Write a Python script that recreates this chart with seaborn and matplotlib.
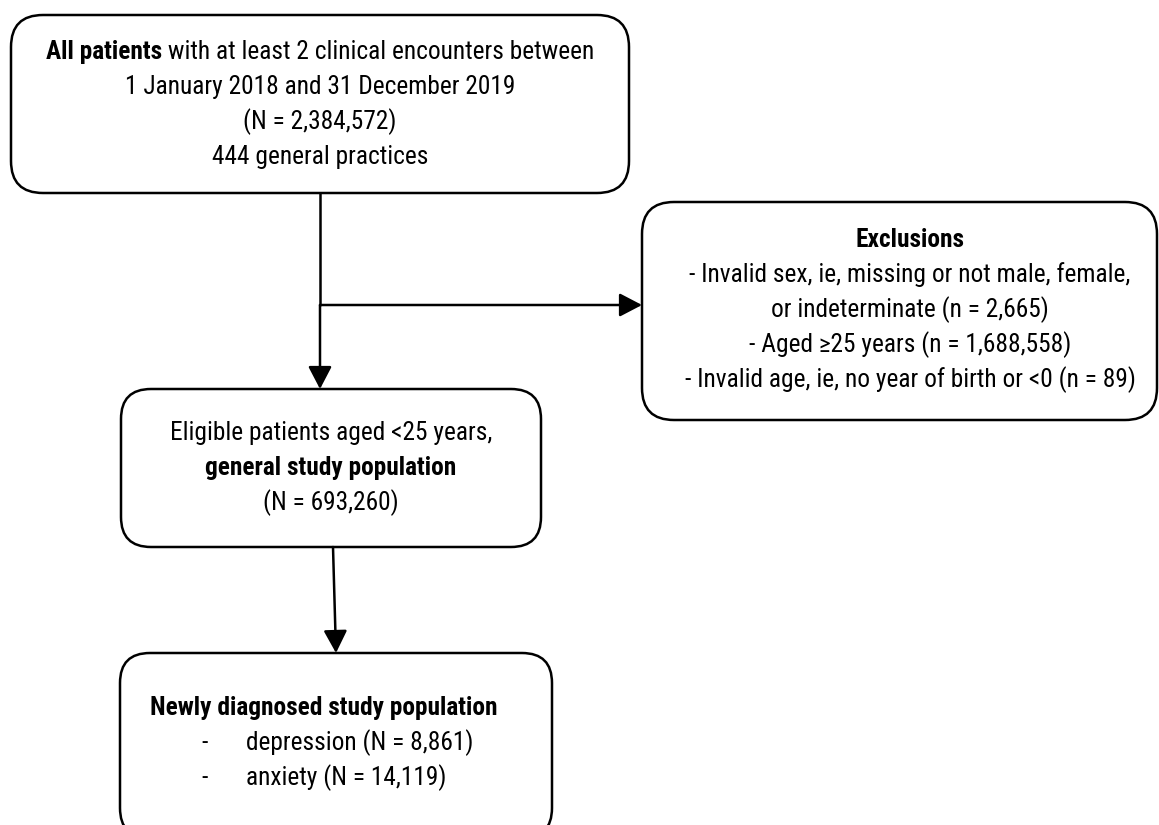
import matplotlib
matplotlib.use("Agg")
import matplotlib.pyplot as plt
import seaborn as sns
from matplotlib import font_manager
from matplotlib.patches import FancyBboxPatch

# flowchart content
top_bold = "All patients"
top_rest = " with at least 2 clinical encounters between"
top_lines = ["1 January 2018 and 31 December 2019", "(N = 2,384,572)", "444 general practices"]

excl_title = "Exclusions"
excl_lines = ["- Invalid sex, ie, missing or not male, female,",
              "or indeterminate (n = 2,665)",
              "- Aged \u226525 years (n = 1,688,558)",
              "- Invalid age, ie, no year of birth or <0 (n = 89)"]

mid_lines = ["Eligible patients aged <25 years,", "general study population", "(N = 693,260)"]
mid_bold = [False, True, False]

new_title = "Newly diagnosed study population"
new_items = ["depression (N = 8,861)", "anxiety (N = 14,119)"]

sns.set_theme(style="white")

# pick a narrow sans font if one is around
names = {f.name for f in font_manager.fontManager.ttflist}
cands = ['Liberation Sans Narrow', 'Arial Narrow', 'Roboto Condensed',
         'Open Sans Condensed', 'Nimbus Sans Narrow', 'Liberation Sans']
fam = next(c for c in cands + ['DejaVu Sans'] if c in names)
plt.rcParams['font.family'] = [fam, 'DejaVu Sans']
plt.rcParams['text.color'] = 'black'

W, H = 1159, 825
fig = plt.figure(figsize=(W / 100, H / 100), dpi=100)
ax = fig.add_axes([0, 0, 1, 1])
ax.set_xlim(0, W)
ax.set_ylim(H, 0)
ax.axis('off')

rend = fig.canvas.get_renderer()

# size the font so the longest exclusion line is ~437 px wide, like the original
probe = ax.text(0, 0, excl_lines[0], fontsize=10)
FS = 10 * 437 / probe.get_window_extent(rend).width
probe.remove()

LW = 1.8


def box(x0, y0, x1, y1, r=30):
    p = FancyBboxPatch((x0, y0), x1 - x0, y1 - y0,
                       boxstyle=f"round,pad=0,rounding_size={r}",
                       fc='white', ec='black', lw=LW, clip_on=False)
    ax.add_patch(p)


def arrow(x0, y0, x1, y1):
    ax.annotate("", xy=(x1, y1), xytext=(x0, y0),
                arrowprops=dict(arrowstyle="-|>,head_length=1.15,head_width=0.6",
                                color='black', lw=LW, shrinkA=0, shrinkB=0))


# boxes
box(11, 15, 629, 193, r=32)
box(642, 202, 1157, 420, r=32)
box(121, 389, 541, 547)
box(120, 653, 552, 838)

# connectors
ax.plot([320, 320], [193, 305], color='black', lw=LW)
arrow(320, 305, 320, 389)
arrow(320, 305, 642, 305)
arrow(333, 547, 336, 653)

# top box text
t1 = ax.text(0, 52, top_bold, fontsize=FS, fontweight='bold', ha='left', va='center')
t2 = ax.text(0, 52, top_rest, fontsize=FS, ha='left', va='center')
w1 = t1.get_window_extent(rend).width
w2 = t2.get_window_extent(rend).width
cx = 320
start = cx - (w1 + w2) / 2
t1.set_x(start)
t2.set_x(start + w1)
for i, s in enumerate(top_lines):
    ax.text(cx, 87 + i * 35, s, fontsize=FS, ha='center', va='center')

# exclusions
ax.text(910, 240, excl_title, fontsize=FS, fontweight='bold', ha='center', va='center')
for i, s in enumerate(excl_lines):
    ax.text(910, 275 + i * 35, s, fontsize=FS, ha='center', va='center')

# eligible
for i, (s, b) in enumerate(zip(mid_lines, mid_bold)):
    ax.text(331, 433 + i * 35, s, fontsize=FS, ha='center', va='center',
            fontweight='bold' if b else 'normal')

# newly diagnosed
ax.text(150, 708, new_title, fontsize=FS, fontweight='bold', ha='left', va='center')
for i, s in enumerate(new_items):
    ax.text(201, 743 + i * 35, "-", fontsize=FS, ha='left', va='center')
    ax.text(246, 743 + i * 35, s, fontsize=FS, ha='left', va='center')

fig.savefig("out.png", dpi=100, facecolor='white')
